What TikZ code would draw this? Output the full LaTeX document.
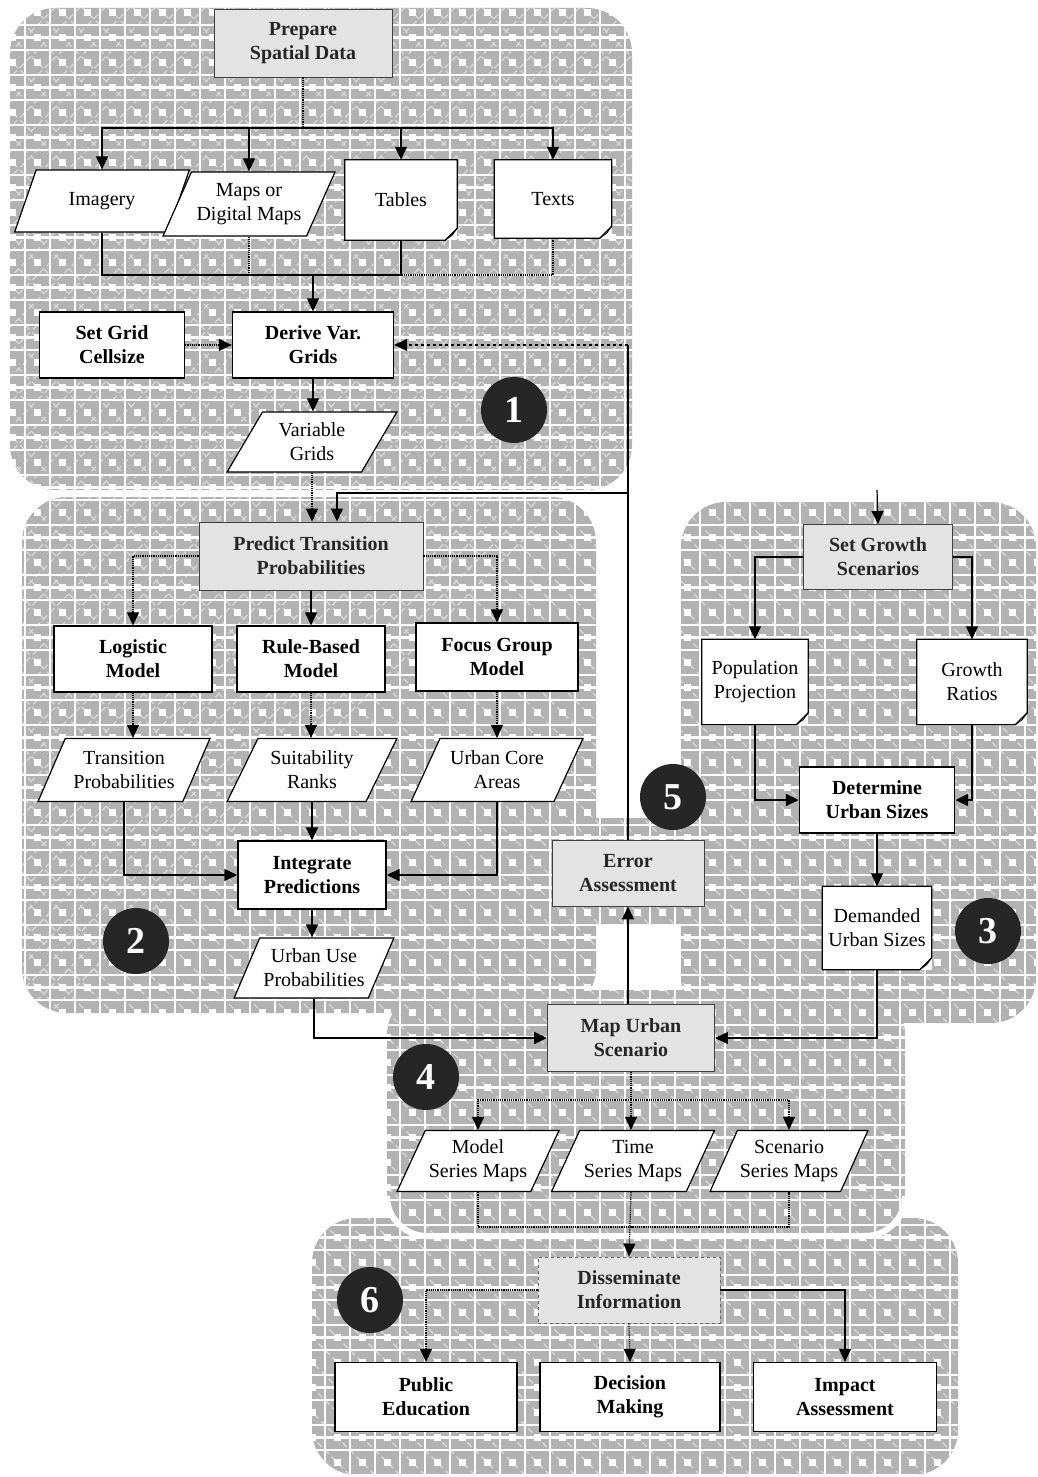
\documentclass[tikz,border=0pt]{standalone}
\usepackage{fontspec}
\setmainfont{Liberation Serif}
\usetikzlibrary{shapes.geometric,arrows.meta}

% outline of a document symbol with a folded lower right corner
\newcommand\docoutline[1]{%
  \draw[line width=1.2pt] (#1.south west) -- (#1.north west) -- (#1.north east)
      -- ([yshift=12pt]#1.south east) -- ([xshift=-12pt]#1.south east) -- cycle;
  \draw[line width=0.8pt] ([yshift=12pt]#1.south east) -- ([xshift=-5pt,yshift=5pt]#1.south east)
      -- ([xshift=-12pt]#1.south east);}

\begin{document}
\begin{tikzpicture}[x=1pt,y=-1pt,
  every node/.style={font=\fontsize{20}{24}\selectfont, align=center, inner sep=0pt},
  proc/.style={rectangle, draw, line width=1.3pt, fill=white,
               font=\fontsize{20}{24}\selectfont\bfseries},
  shade/.style={rectangle, draw=black!75, line width=0.9pt, fill=gray!22,
                font=\fontsize{20}{24}\selectfont\bfseries, text=black!85},
  data/.style={trapezium, trapezium left angle=58, trapezium right angle=122,
               trapezium stretches=true, draw, line width=1.2pt, fill=white},
  docbox/.style={rectangle, fill=white},
  badge/.style={circle, fill=black!85, text=white, minimum size=66pt,
                font=\fontsize{38}{38}\selectfont\bfseries},
  conn/.style={line width=1.2pt},
  arr/.style={line width=1.2pt, -{Triangle[length=13pt,width=12pt]}},
  faint/.style={densely dotted},
]
\useasboundingbox (0,0) rectangle (1038,1477);

% ---- halftone panels of the six stages ----
\begin{scope}
  \clip[rounded corners=45]
    (312,1218) rectangle (958,1475)
    (387,990) rectangle (905,1236)
    (10,8) rectangle (632,490)
    (22,497) rectangle (596,1013)
    (681,502) rectangle (1036,1023)
    [rounded corners=10] (540,818) rectangle (705,924);
  \fill[gray!60] (0,0) rectangle (1038,1477);
  \foreach \k in {-60,...,42} {
    \draw[gray!30, line width=1.4pt, dash pattern=on 6pt off 4pt] (25*\k,0) -- (25*\k+1477,1477);
    \draw[gray!30, line width=1.4pt, dash pattern=on 6pt off 4pt] (25*\k+12.5,0) -- (25*\k+12.5-1477,1477);
  }
  \draw[white, line width=1.6pt, step=25pt] (0,0) grid (1038,1477);
  \foreach \r in {0,...,59} {
    \draw[white, line width=7pt, dash pattern=on 7pt off 18pt, dash phase=-9pt]
      (0,12.5+25*\r) -- (1038,12.5+25*\r);
  }
  \foreach \r in {0,...,29} {
    \draw[white, line width=3pt] (0,50*\r+37.5) -- (1038,50*\r+37.5);
  }
\end{scope}
\draw[white, line width=6pt, rounded corners=40] (387,1205) -- (387,1236) -- (905,1236) -- (905,1205);

% ---- stage 1: spatial data ----
\node[shade, minimum width=178, minimum height=68] (prep) at (303,43) {Prepare\\Spatial Data};
\node[data, minimum width=175, minimum height=62] (imagery) at (102,201) {Imagery};
\node[data, minimum width=172, minimum height=64] (maps) at (249,204) {Maps or\\Digital Maps};
\node[docbox, minimum width=112, minimum height=80] (tables) at (401,200) {Tables};
\node[docbox, minimum width=117, minimum height=78] (texts) at (553,199) {Texts};
\docoutline{tables}
\docoutline{texts}
\node[proc, minimum width=145, minimum height=66] (setgrid) at (112,345) {Set Grid\\Cellsize};
\node[proc, minimum width=161, minimum height=66] (derive) at (313,345) {Derive Var.\\Grids};
\node[data, minimum width=170, minimum height=60] (vargrids) at (312,442) {Variable\\Grids};
\node[badge] (n1) at (514,410) {1};

% ---- stage 2: transition probabilities ----
\node[shade, minimum width=224, minimum height=68] (ptp) at (311,556) {Predict Transition\\Probabilities};
\node[proc, minimum width=158, minimum height=66] (logistic) at (133,659) {Logistic\\Model};
\node[proc, minimum width=148, minimum height=66] (rule) at (311,659) {Rule-Based\\Model};
\node[proc, minimum width=162, minimum height=68] (focus) at (497,657) {Focus Group\\Model};
\node[data, minimum width=172, minimum height=63] (transition) at (124,770) {Transition\\Probabilities};
\node[data, minimum width=170, minimum height=63] (suit) at (312,770) {Suitability\\Ranks};
\node[data, minimum width=172, minimum height=63] (urbancore) at (497,770) {Urban Core\\Areas};
\node[proc, minimum width=148, minimum height=68] (integrate) at (312,875) {Integrate\\Predictions};
\node[data, minimum width=160, minimum height=60] (urbanuse) at (314,968) {Urban Use\\Probabilities};
\node[badge] (n2) at (136,941) {2};

% ---- stage 5: error assessment ----
\node[shade, minimum width=152, minimum height=66] (error) at (628,873) {Error\\Assessment};
\node[badge] (n5) at (673,797) {5};

% ---- stage 3: growth scenarios ----
\node[shade, minimum width=149, minimum height=65] (setgrowth) at (878,557) {Set Growth\\Scenarios};
\node[docbox, minimum width=106, minimum height=85] (pop) at (755,682) {Population\\Projection};
\node[docbox, minimum width=110, minimum height=85] (growth) at (972,682) {Growth\\Ratios};
\docoutline{pop}
\docoutline{growth}
\node[proc, minimum width=155, minimum height=66] (determine) at (877,800) {Determine\\Urban Sizes};
\node[docbox, minimum width=109, minimum height=83] (demanded) at (877,928) {Demanded\\Urban Sizes};
\docoutline{demanded}
\node[badge] (n3) at (988,931) {3};

% ---- stage 4: urban scenarios ----
\node[shade, minimum width=167, minimum height=67] (map) at (631,1038) {Map Urban\\Scenario};
\node[badge] (n4) at (426,1077) {4};
\node[data, minimum width=162, minimum height=61] (model) at (478,1161) {Model\\Series Maps};
\node[data, minimum width=163, minimum height=61] (time) at (633,1161) {Time\\Series Maps};
\node[data, minimum width=158, minimum height=61] (scenario) at (789,1161) {Scenario\\Series Maps};

% ---- stage 6: dissemination ----
\node[shade, draw=black!60, dashed, minimum width=182, minimum height=66] (dissem) at (629,1290) {Disseminate\\Information};
\node[badge] (n6) at (370,1300) {6};
\node[proc, minimum width=182, minimum height=69] (public) at (426,1397) {Public\\Education};
\node[proc, minimum width=180, minimum height=69] (decision) at (630,1397) {Decision\\Making};
\node[proc, minimum width=183, minimum height=69] (impact) at (845,1397) {Impact\\Assessment};

% ---- junction points ----
\coordinate (bus1) at (303,128);
\coordinate (merge1) at (313,275);
\coordinate (fbbot) at (628,493);
\coordinate (fbtop) at (628,345);
\coordinate (sgin) at (877,490);
\coordinate (mapbus) at (631,1100);
\coordinate (seriesbus) at (631,1227);

% ---- connectors, stage 1 ----
\draw[conn, faint] (prep.south) -- (bus1);
\draw[arr] (bus1) -| (imagery.north);
\draw[arr] (bus1) -| (maps.north);
\draw[arr] (bus1) -| (tables.north);
\draw[arr] (bus1) -| (texts.north);
\draw[conn] (imagery.south) |- (merge1) -| (tables.south);
\draw[conn, faint] (maps.south) -- (maps.south |- merge1);
\draw[conn, faint] (texts.south) |- (tables.south |- merge1);
\draw[arr] (merge1) -- (derive.north);
\draw[arr, faint] (setgrid) -- (derive);
\draw[arr] (derive.south) -- (derive.south |- vargrids.north);
\draw[arr, faint] (vargrids.south) -- (vargrids.south |- ptp.north);

% ---- feedback from error assessment ----
\draw[conn] (error.north) -- (fbbot);
\draw[conn] (fbbot) -- (fbtop);
\draw[arr, dashed] (fbtop) -- (derive.east);
\draw[arr] (fbbot) -| ([xshift=26pt]ptp.north);

% ---- connectors, stage 2 ----
\draw[arr, faint] (ptp.west) -| (logistic.north);
\draw[arr] (ptp.south) -- (ptp.south |- rule.north);
\draw[arr, faint] (ptp.east) -| (focus.north);
\draw[arr, faint] (logistic.south) -- (logistic.south |- transition.north);
\draw[arr, faint] (rule.south) -- (rule.south |- suit.north);
\draw[arr, faint] (focus.south) -- (focus.south |- urbancore.north);
\draw[arr] (transition.south) |- (integrate.west);
\draw[arr] (urbancore.south) |- (integrate.east);
\draw[arr] (suit.south) -- (suit.south |- integrate.north);
\draw[arr] (integrate.south) -- (integrate.south |- urbanuse.north);
\draw[arr, line width=2pt] (urbanuse.south) |- (map.west);
\draw[arr] (error.south |- map.north) -- (error.south);

% ---- connectors, stage 3 ----
\draw[arr] (sgin) -- (setgrowth.north);
\draw[arr] (setgrowth.west) -| (pop.north);
\draw[arr] (setgrowth.east) -| (growth.north);
\draw[arr] (pop.south) |- (determine.west);
\draw[arr] (growth.south) |- (determine.east);
\draw[arr] (determine.south) -- (determine.south |- demanded.north);
\draw[arr] (demanded.south) |- (map.east);

% ---- connectors, stage 4 ----
\draw[conn, faint] (map.south) -- (mapbus);
\draw[arr, faint] (mapbus) -| (model.north);
\draw[arr, faint] (mapbus) -- (time.north -| mapbus);
\draw[arr, faint] (mapbus) -| (scenario.north);
\draw[conn, faint] (model.south) |- (seriesbus) -| (scenario.south);
\draw[arr, faint] (time.south -| seriesbus) -- (dissem.north);

% ---- connectors, stage 6 ----
\draw[arr, faint] (dissem.west) -| (public.north);
\draw[arr, faint] (dissem.south) -- (decision.north);
\draw[arr] (dissem.east) -| (impact.north);
\end{tikzpicture}
\end{document}
